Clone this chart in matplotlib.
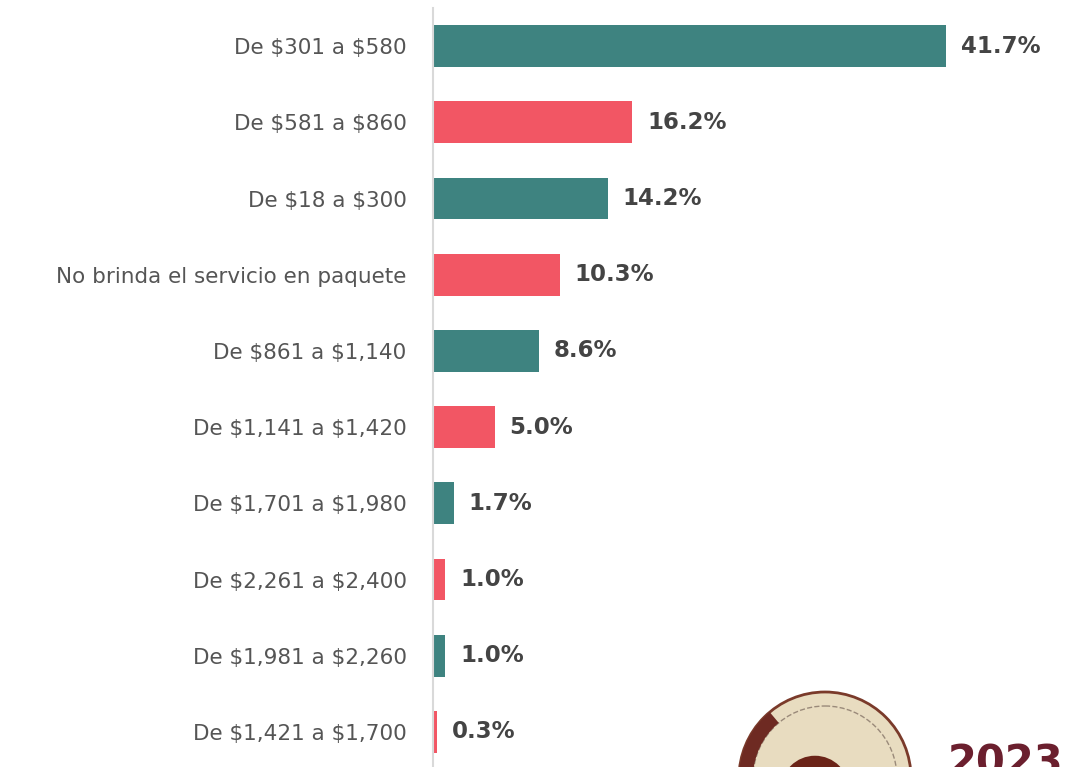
import matplotlib
matplotlib.use("Agg")
import matplotlib.pyplot as plt
from matplotlib.patches import Circle, Wedge

categories = ["De $301 a $580", "De $581 a $860", "De $18 a $300",
              "No brinda el servicio en paquete", "De $861 a $1,140",
              "De $1,141 a $1,420", "De $1,701 a $1,980", "De $2,261 a $2,400",
              "De $1,981 a $2,260", "De $1,421 a $1,700"]
values = [41.7, 16.2, 14.2, 10.3, 8.6, 5.0, 1.7, 1.0, 1.0, 0.3]
teal = "#3E8380"
red = "#F25664"
colors = [teal if i % 2 == 0 else red for i in range(len(values))]

W, H = 1078, 767
fig = plt.figure(figsize=(W / 100, H / 100), dpi=100)

# partial logo at bottom right (drawn behind)
lax = fig.add_axes([0, 0, 1, 1])
lax.set_xlim(0, W)
lax.set_ylim(H, 0)
lax.axis("off")
lax.add_patch(Circle((825, 778), 86, facecolor="#e8dcc0", edgecolor="#7a3a2a", linewidth=2))
lax.add_patch(Circle((825, 778), 72, facecolor="none", edgecolor="#9a8a7a", linewidth=1, linestyle="--"))
lax.add_patch(Wedge((825, 778), 86, 150, 230, width=14, facecolor="#6e2a22"))
lax.add_patch(Circle((815, 790), 28, facecolor="none", edgecolor="#6b2418", linewidth=9))
lax.text(948, 742, "2023", fontsize=30, fontweight="bold", color="#6b1f2e",
         ha="left", va="top", family="DejaVu Sans")

ax = fig.add_axes([433 / W, 0, (W - 433) / W, (767 - 8) / H])
ax.set_facecolor("none")

y = list(range(len(values)))
ax.barh(y, values, height=0.55, color=colors)
ax.set_ylim(9.46, -0.5)
ax.set_xlim(0, 52.4)
ax.set_yticks(y)
ax.set_yticklabels(categories, fontsize=15.5, color="#555555", family="DejaVu Sans")
for t in ax.get_yticklabels():
    t.set_parse_math(False)
ax.tick_params(axis="y", length=0, pad=19)
ax.set_xticks([])
for s in ["top", "right", "bottom"]:
    ax.spines[s].set_visible(False)
ax.spines["left"].set_color("#d9d9d9")
ax.spines["left"].set_linewidth(1.5)

for yi, v in zip(y, values):
    ax.text(v + 1.2, yi, f"{v:.1f}%", va="center", ha="left",
            fontsize=16.5, fontweight="bold", color="#444444")

fig.savefig("out.png", dpi=100)
